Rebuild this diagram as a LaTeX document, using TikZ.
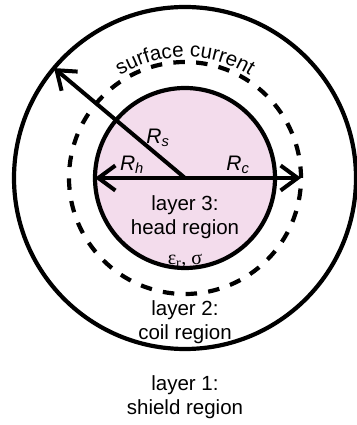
\documentclass[tikz,border=0pt]{standalone}
\usepackage{fontspec}
\setmainfont{Liberation Sans}
\newfontfamily\grkfont{Liberation Serif}
\usetikzlibrary{arrows.meta,decorations.text}
\definecolor{headfill}{RGB}{243,220,236}
\begin{document}
\begin{tikzpicture}[x=1pt,y=1pt,
  ringnode/.style={circle, inner sep=0pt, outer sep=0pt, line width=4.2pt},
  radiusarrow/.style={line width=4pt, -{Straight Barb[length=17pt,width=25pt,line width=4pt]}},
  lbl/.style={font=\fontsize{20.5}{23.5}\selectfont, align=center, inner sep=0pt},
  rlbl/.style={font=\fontsize{21}{23}\selectfont, inner sep=0pt},
]
\useasboundingbox (0,0) rectangle (356,425);
\coordinate (O) at (185,247);
\node[ringnode, draw, minimum size=342pt] (shield) at (O) {};
\node[ringnode, draw, dash pattern=on 11.5pt off 11.3pt, minimum size=232pt] (coil) at (O) {};
\node[ringnode, draw, fill=headfill, minimum size=180pt] (head) at (O) {};
% arrows
\draw[radiusarrow] (O) -- (shield.140);
\draw[radiusarrow] (O) -- (head.west);
\draw[radiusarrow] (O) -- (coil.east);
% labels
\node[rlbl] (rs) at (158,287) {\textit{R}\textsubscript{\textit{s}}};
\node[rlbl] (rh) at (132,260) {\textit{R}\textsubscript{\textit{h}}};
\node[rlbl] (rc) at (238,260) {\textit{R}\textsubscript{\textit{c}}};
\node[lbl] (l3) at (185,208) {layer 3:\\head region};
\node[font=\fontsize{20}{22}\selectfont, inner sep=0pt] (eps) at (185,164) {\grkfont ε\textsubscript{r}, σ};
\node[lbl] (l2) at (185,103) {layer 2:\\coil region};
\node[lbl] (l1) at (185,28) {layer 1:\\shield region};
% surface current along arc
\path[decorate, decoration={text along path, text align=center,
  text={|\fontsize{20.5}{22}\selectfont|surface current}}]
  (O) ++(155:121) arc (155:25:121);
\end{tikzpicture}
\end{document}
